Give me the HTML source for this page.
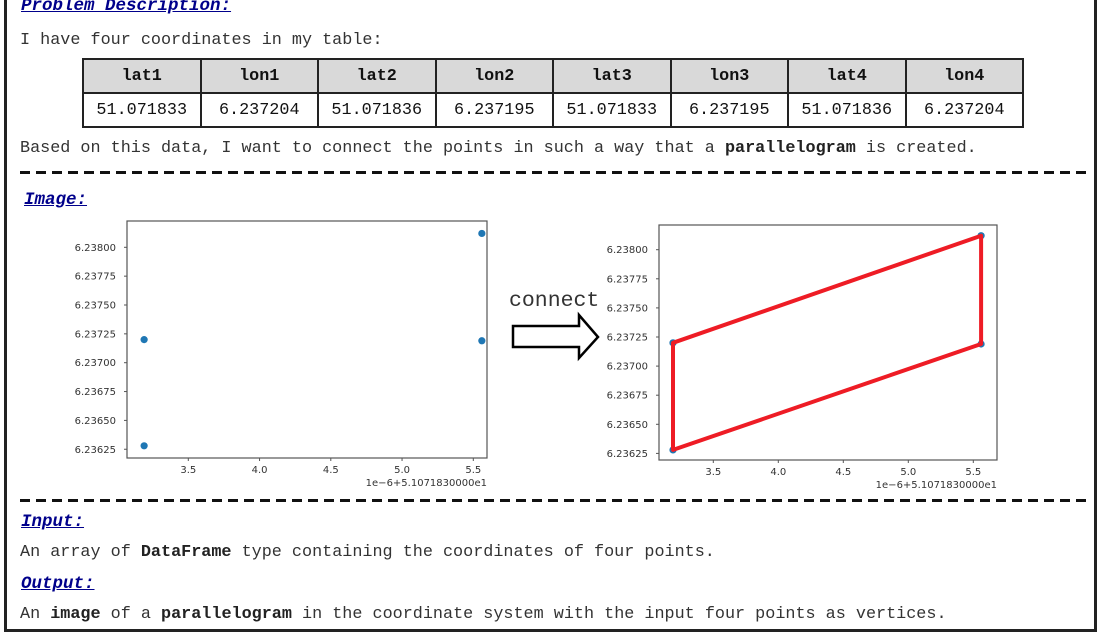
<!DOCTYPE html>
<html><head><meta charset="utf-8"><style>
body{margin:0;width:1098px;height:642px;background:#fff;overflow:hidden;position:relative;font-family:"Liberation Mono","DejaVu Sans Mono",monospace;font-size:16.8px;color:#333}
.frame{position:absolute;left:4px;top:-10px;width:1087px;height:639px;border:3px solid #222;border-top:none}
.t{position:absolute;left:20px;white-space:pre;line-height:20px}
.h{position:absolute;left:21px;color:#00008b;font-weight:bold;font-style:italic;text-decoration:underline;line-height:20px;font-size:17.5px}
.dash{position:absolute;left:20px;width:1070px;height:3px;background:repeating-linear-gradient(90deg,#111 0 10px,transparent 10px 16px)}
table{position:absolute;left:82px;top:58px;border-collapse:collapse}
td{border:2px solid #222;width:115.5px;height:32px;text-align:center;padding:0;color:#111}
tr.hd td{background:#d9d9d9;font-weight:bold}
b{color:#222}
</style></head><body>
<div class="frame"></div>
<div class="h" style="top:-4px">Problem Description:</div>
<div class="t" style="top:31px">I have four coordinates in my table:</div>
<table>
<tr class="hd"><td>lat1</td><td>lon1</td><td>lat2</td><td>lon2</td><td>lat3</td><td>lon3</td><td>lat4</td><td>lon4</td></tr>
<tr><td>51.071833</td><td>6.237204</td><td>51.071836</td><td>6.237195</td><td>51.071833</td><td>6.237195</td><td>51.071836</td><td>6.237204</td></tr>
</table>
<div class="t" style="top:139px">Based on this data, I want to connect the points in such a way that a <b>parallelogram</b> is created.</div>
<div class="dash" style="top:171px"></div>
<div class="h" style="top:190px;left:24px">Image:</div>
<svg id="charts" width="1098" height="642" style="position:absolute;left:0;top:0" font-family="DejaVu Sans, sans-serif">
<text x="509" y="306" font-family="Liberation Mono, monospace" font-size="21.5" fill="#333">connect</text>
<polygon points="513,326 579,326 579,315 598,337 579,358 579,347 513,347" fill="#fff" stroke="#000" stroke-width="2.5"/>
</svg>
<div class="dash" style="top:499px"></div>
<div class="h" style="top:512px">Input:</div>
<div class="t" style="top:543px">An array of <b>DataFrame</b> type containing the coordinates of four points.</div>
<div class="h" style="top:574px">Output:</div>
<div class="t" style="top:605px">An <b>image</b> of a <b>parallelogram</b> in the coordinate system with the input four points as vertices.</div>
<script>
const xs=[3.19,3.19,5.56,5.56];
const ys=[6.23628,6.23720,6.23719,6.23812];
const polyOrder=[1,3,2,0];
const xTicks=[3.5,4.0,4.5,5.0,5.5];
const xTickLabels=["3.5","4.0","4.5","5.0","5.5"];
const yTicks=[6.23625,6.2365,6.23675,6.237,6.23725,6.2375,6.23775,6.238];
const yTickLabels=["6.23625","6.23650","6.23675","6.23700","6.23725","6.23750","6.23775","6.23800"];
const svg=document.getElementById('charts');
const NS='http://www.w3.org/2000/svg';
function mk(tag,attrs){const e=document.createElementNS(NS,tag);for(const k in attrs)e.setAttribute(k,attrs[k]);svg.appendChild(e);return e;}
function chart(c,name){
  const sx=v=>c.x0+(v-3.5)*c.kx, sy=v=>c.y0-(v-6.238)*c.ky;
  const box=mk('rect',{x:c.l,y:c.t,width:c.r-c.l,height:c.b-c.t,fill:'none',stroke:'#555','stroke-width':1.2});
  
  
  xTicks.forEach((v,i)=>{
    mk('line',{x1:sx(v),x2:sx(v),y1:c.b,y2:c.b+3,stroke:'#555'});
    const t=mk('text',{x:sx(v),y:c.b+15,'font-size':10,fill:'#333','text-anchor':'middle'});t.textContent=xTickLabels[i];
    
    
  });
  yTicks.forEach((v,i)=>{
    mk('line',{x1:c.l-3,x2:c.l,y1:sy(v),y2:sy(v),stroke:'#555'});
    const t=mk('text',{x:c.l-11,y:sy(v)+3.5,'font-size':10,fill:'#333','text-anchor':'end'});t.textContent=yTickLabels[i];
    
    
  });
  const off=mk('text',{x:c.r,y:c.b+28,'font-size':10,fill:'#333','text-anchor':'end'});off.textContent='1e\u22126+5.1071830000e1';
  
  
  xs.forEach((v,i)=>{
    const p=mk('circle',{cx:sx(v),cy:sy(ys[i]),r:3.6,fill:'#1f77b4'});
    
    
  });
  if(c.poly){
    const pts=polyOrder.map(i=>sx(xs[i])+','+sy(ys[i])).join(' ');
    const pg=mk('polygon',{points:pts,fill:'none',stroke:'#ee1c25','stroke-width':4,'stroke-linejoin':'round'});
    
    
  }
}
chart({l:127,r:487,t:221,b:458,x0:188.3,kx:142.5,y0:247.3,ky:115400,poly:false},'scatter-chart');
chart({l:659,r:997,t:225,b:460,x0:713.3,kx:130,y0:249.7,ky:116400,poly:true},'parallelogram-chart');
</script>
</body></html>
